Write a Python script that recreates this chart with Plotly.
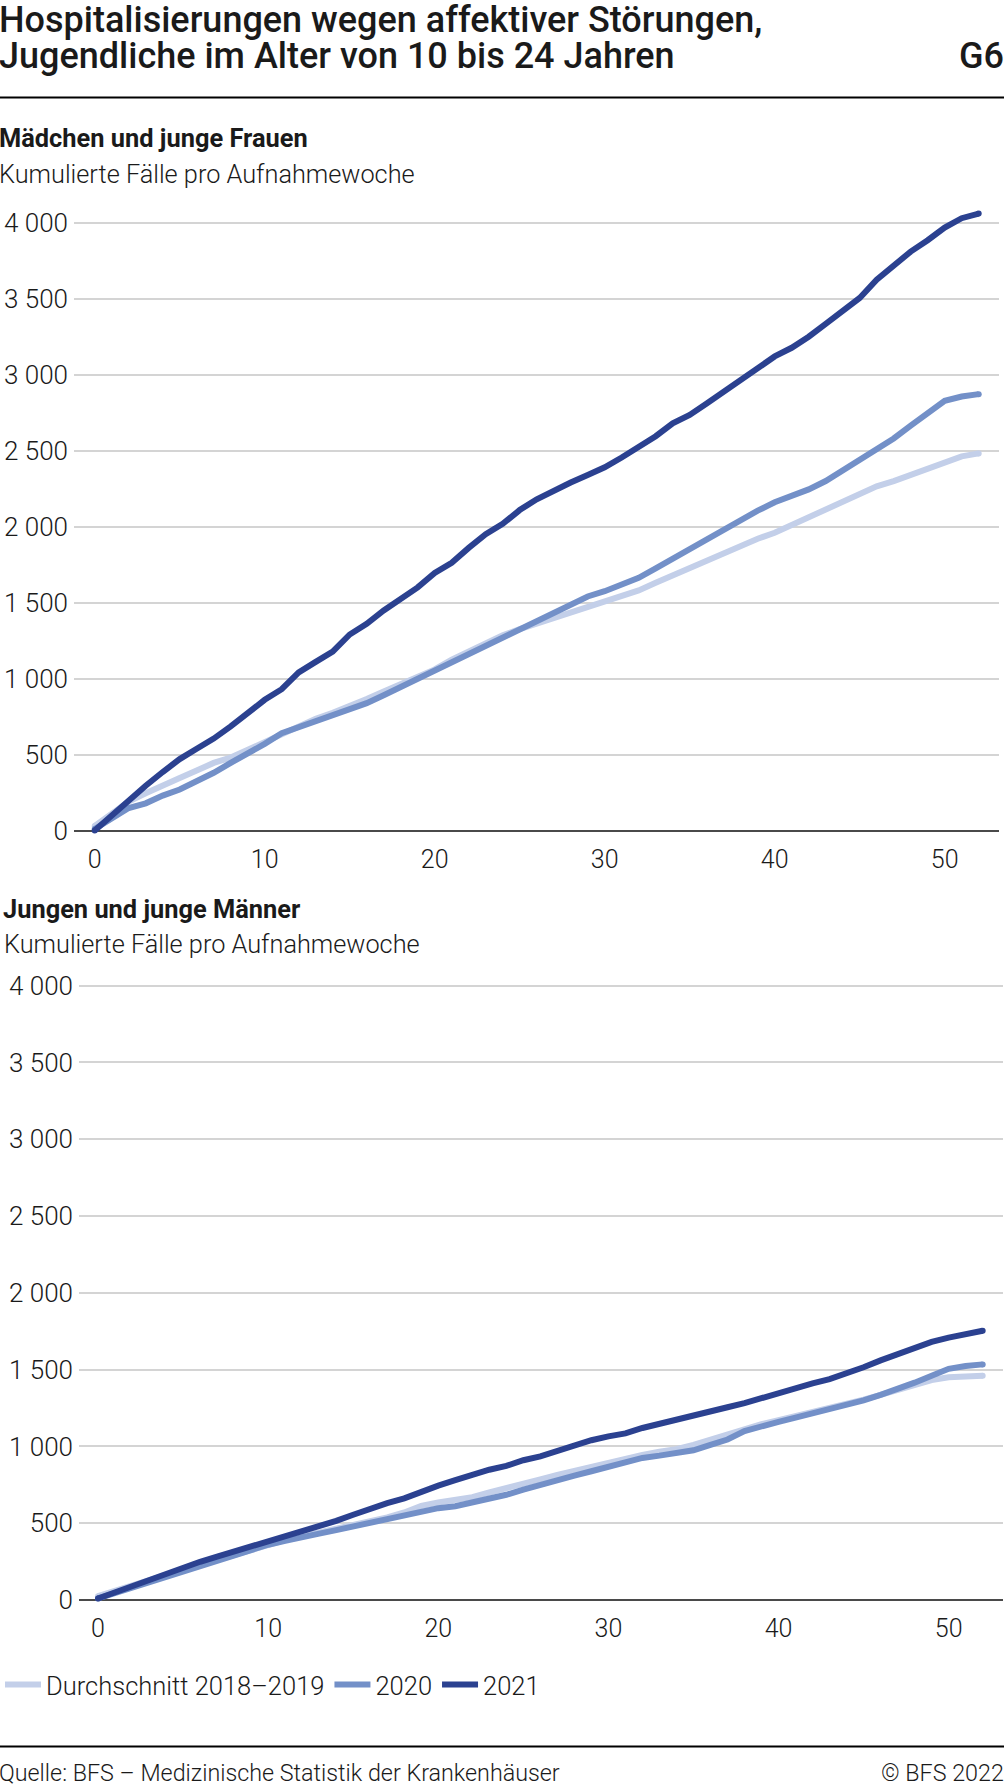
import plotly.graph_objects as go

# ---------------- data ----------------
weeks = list(range(0, 53))

series_names = ["Durchschnitt 2018–2019", "2020", "2021"]
series_colors = ["#c3cfe9", "#7390c8", "#2b4190"]

# Mädchen und junge Frauen (kumulierte Fälle)
f_avg = [30, 110, 190, 245, 300, 345, 395, 445, 480, 530,
         580, 640, 690, 735, 775, 815, 865, 915, 965, 1010,
         1060, 1125, 1180, 1230, 1285, 1325, 1360, 1395, 1430, 1465,
         1500, 1540, 1580, 1630, 1680, 1725, 1775, 1830, 1880, 1920,
         1960, 2010, 2060, 2105, 2165, 2205, 2265, 2300, 2340, 2390,
         2430, 2462, 2482]
f_2020 = [10, 80, 148, 179, 230, 270, 320, 380, 445, 505,
          570, 640, 680, 720, 755, 790, 838, 890, 945, 1000,
          1050, 1105, 1160, 1215, 1273, 1322, 1375, 1430, 1490, 1540,
          1575, 1618, 1663, 1725, 1790, 1845, 1910, 1980, 2040, 2105,
          2160, 2200, 2245, 2300, 2370, 2440, 2510, 2580, 2665, 2745,
          2828, 2856, 2872]
f_2021 = [0, 100, 205, 295, 385, 470, 538, 605, 685, 775,
          860, 930, 1040, 1110, 1177, 1290, 1360, 1448, 1530, 1600,
          1695, 1762, 1860, 1950, 2018, 2109, 2180, 2240, 2290, 2340,
          2390, 2455, 2520, 2595, 2680, 2735, 2810, 2885, 2965, 3045,
          3120, 3177, 3250, 3335, 3415, 3505, 3625, 3720, 3810, 3885,
          3968, 4030, 4060]

# Jungen und junge Männer (kumulierte Fälle)
m_avg = [25, 60, 100, 135, 165, 198, 228, 260, 295, 330,
         360, 390, 415, 440, 462, 485, 508, 538, 570, 612,
         635, 650, 670, 700, 725, 755, 785, 815, 842, 867,
         893, 920, 945, 965, 982, 1010, 1045, 1070, 1115, 1145,
         1170, 1195, 1225, 1252, 1275, 1305, 1335, 1365, 1398, 1432,
         1450, 1456, 1460]
m_2020 = [10, 45, 85, 120, 155, 190, 222, 255, 290, 325,
          360, 385, 412, 432, 455, 478, 500, 520, 545, 575,
          598, 610, 632, 655, 685, 718, 752, 785, 810, 838,
          865, 898, 925, 940, 955, 975, 1010, 1045, 1100, 1135,
          1160, 1187, 1215, 1243, 1268, 1300, 1335, 1372, 1415, 1460,
          1505, 1523, 1534]
m_2021 = [10, 50, 95, 135, 172, 212, 249, 282, 315, 348,
          382, 410, 452, 480, 515, 555, 595, 630, 662, 705,
          745, 780, 815, 848, 873, 910, 935, 970, 1010, 1040,
          1065, 1085, 1120, 1145, 1175, 1205, 1230, 1255, 1282, 1315,
          1350, 1382, 1410, 1438, 1472, 1515, 1560, 1600, 1645, 1680,
          1708, 1733, 1753]

x_tick_vals = [0, 10, 20, 30, 40, 50]
x_tick_labels = ["0", "10", "20", "30", "40", "50"]
y_tick_vals = [0, 500, 1000, 1500, 2000, 2500, 3000, 3500, 4000]
y_tick_labels = ["0", "500", "1 000", "1 500", "2 000", "2 500", "3 000", "3 500", "4 000"]

title_lines = ["Hospitalisierungen wegen affektiver Störungen,",
               "Jugendliche im Alter von 10 bis 24 Jahren"]
chart_no = "G6"
panel_titles = ["Mädchen und junge Frauen", "Jungen und junge Männer"]
unit_label = "Kumulierte Fälle pro Aufnahmewoche"
source_text = "Quelle: BFS – Medizinische Statistik der Krankenhäuser"
copyright_text = "© BFS 2022"

# ---------------- layout helpers ----------------
W, H = 1004, 1788
FONT = "Roboto"
TXT = "#1a1a1a"
LW = 6


def fx(p):
    return p / W


def fy(p):
    return 1 - p / H


def y_axis_geom(zero_px, px_per_500, top_px, bottom_px):
    lo = -(bottom_px - zero_px) / px_per_500 * 500
    hi = (zero_px - top_px) / px_per_500 * 500
    return [fy(bottom_px), fy(top_px)], [lo, hi]


def x_axis_geom(left_px, right_px, x0_px, px_per_week):
    lo = (left_px - x0_px) / px_per_week
    hi = (right_px - x0_px) / px_per_week
    return [fx(left_px), fx(right_px)], [lo, hi]


fig = go.Figure()

panels = [
    (f_avg, f_2020, f_2021, "x", "y", True),
    (m_avg, m_2020, m_2021, "x2", "y2", False),
]
for avg, y20, y21, xa, ya, show in panels:
    for name, vals, col in zip(series_names, [avg, y20, y21], series_colors):
        fig.add_trace(go.Scatter(
            x=weeks, y=vals, mode="lines", name=name,
            line=dict(color=col, width=LW),
            xaxis=xa, yaxis=ya, showlegend=show, hoverinfo="skip",
        ))
        # round line ends
        fig.add_trace(go.Scatter(
            x=[weeks[0], weeks[-1]], y=[vals[0], vals[-1]], mode="markers",
            marker=dict(color=col, size=LW, line=dict(width=0)),
            xaxis=xa, yaxis=ya, showlegend=False, hoverinfo="skip",
        ))

ydom1, yr1 = y_axis_geom(830.5, 75.97, 200, 837)
ydom2, yr2 = y_axis_geom(1600, 76.8, 960, 1606)
xdom1, xr1 = x_axis_geom(74, 999, 94.7, 17.0)
xdom2, xr2 = x_axis_geom(79, 1003, 98, 17.013)

ytickfont = dict(family=FONT, size=26, color=TXT, weight=300)
xtickfont = dict(family=FONT, size=25, color=TXT, weight=300)

yaxis_common = dict(
    tickvals=y_tick_vals, ticktext=y_tick_labels, showgrid=True,
    gridcolor="#d4d4d4", gridwidth=2, zeroline=True, zerolinecolor="#4a4a4a",
    zerolinewidth=2, showline=False, ticks="", tickfont=ytickfont,
    ticklabelstandoff=5, fixedrange=True,
)
xaxis_common = dict(
    tickvals=x_tick_vals, ticktext=x_tick_labels, showgrid=False, zeroline=False,
    showline=False, ticks="", tickfont=xtickfont, ticklabelstandoff=5, fixedrange=True,
)

annotations = []


def add_text(text, x, y, size, weight=400, xanchor="left"):
    annotations.append(dict(
        text=text, x=fx(x), y=fy(y), xref="paper", yref="paper",
        xanchor=xanchor, yanchor="middle", showarrow=False,
        font=dict(family=FONT, size=size, color=TXT, weight=weight),
    ))


add_text(title_lines[0], -3, 20, 36, 500)
add_text(title_lines[1], -3, 56, 36, 500)
add_text(chart_no, 1006, 56, 36, 500, "right")
add_text(panel_titles[0], -3, 138, 25.4, 700)
add_text(unit_label, -3, 174, 25.3, 300)
add_text(panel_titles[1], 1, 909, 25.4, 700)
add_text(unit_label, 2, 944, 25.3, 300)
add_text(source_text, -3, 1773, 23.3, 300)
add_text(copyright_text, 1006, 1773, 23.3, 300, "right")

shapes = [
    dict(type="line", xref="paper", yref="paper", x0=0, x1=1,
         y0=fy(97.5), y1=fy(97.5), line=dict(color="#000000", width=2)),
    dict(type="line", xref="paper", yref="paper", x0=0, x1=1,
         y0=fy(1746.5), y1=fy(1746.5), line=dict(color="#000000", width=2)),
]

fig.update_layout(
    width=W, height=H, autosize=False,
    margin=dict(l=0, r=0, t=0, b=0, autoexpand=False),
    paper_bgcolor="white", plot_bgcolor="white",
    font=dict(family=FONT, color=TXT),
    xaxis=dict(domain=xdom1, range=xr1, anchor="y", **xaxis_common),
    yaxis=dict(domain=ydom1, range=yr1, anchor="x", **yaxis_common),
    xaxis2=dict(domain=xdom2, range=xr2, anchor="y2", **xaxis_common),
    yaxis2=dict(domain=ydom2, range=yr2, anchor="x2", **yaxis_common),
    legend=dict(orientation="h", x=0, xanchor="left", y=fy(1685),
                yanchor="middle", font=dict(family=FONT, size=25.5, color=TXT, weight=300),
                itemwidth=36, bgcolor="rgba(0,0,0,0)", traceorder="normal"),
    annotations=annotations, shapes=shapes,
)

post_js = (
    "var d=document.documentElement;d.style.margin='0';d.style.height='1788px';d.style.overflow='hidden';"
    "var b=document.body;b.style.margin='0';b.style.height='1788px';b.style.overflow='hidden';"
    "var gd=document.getElementById('{plot_id}');gd.style.overflow='hidden';"
    "Array.prototype.forEach.call(gd.querySelectorAll('.svg-container'),function(e){e.style.overflow='hidden';});"
    "Array.prototype.forEach.call(gd.querySelectorAll('svg.main-svg'),function(e){e.style.display='block';});"
)

fig.write_html("out.html", config={"displayModeBar": False}, post_script=post_js)
